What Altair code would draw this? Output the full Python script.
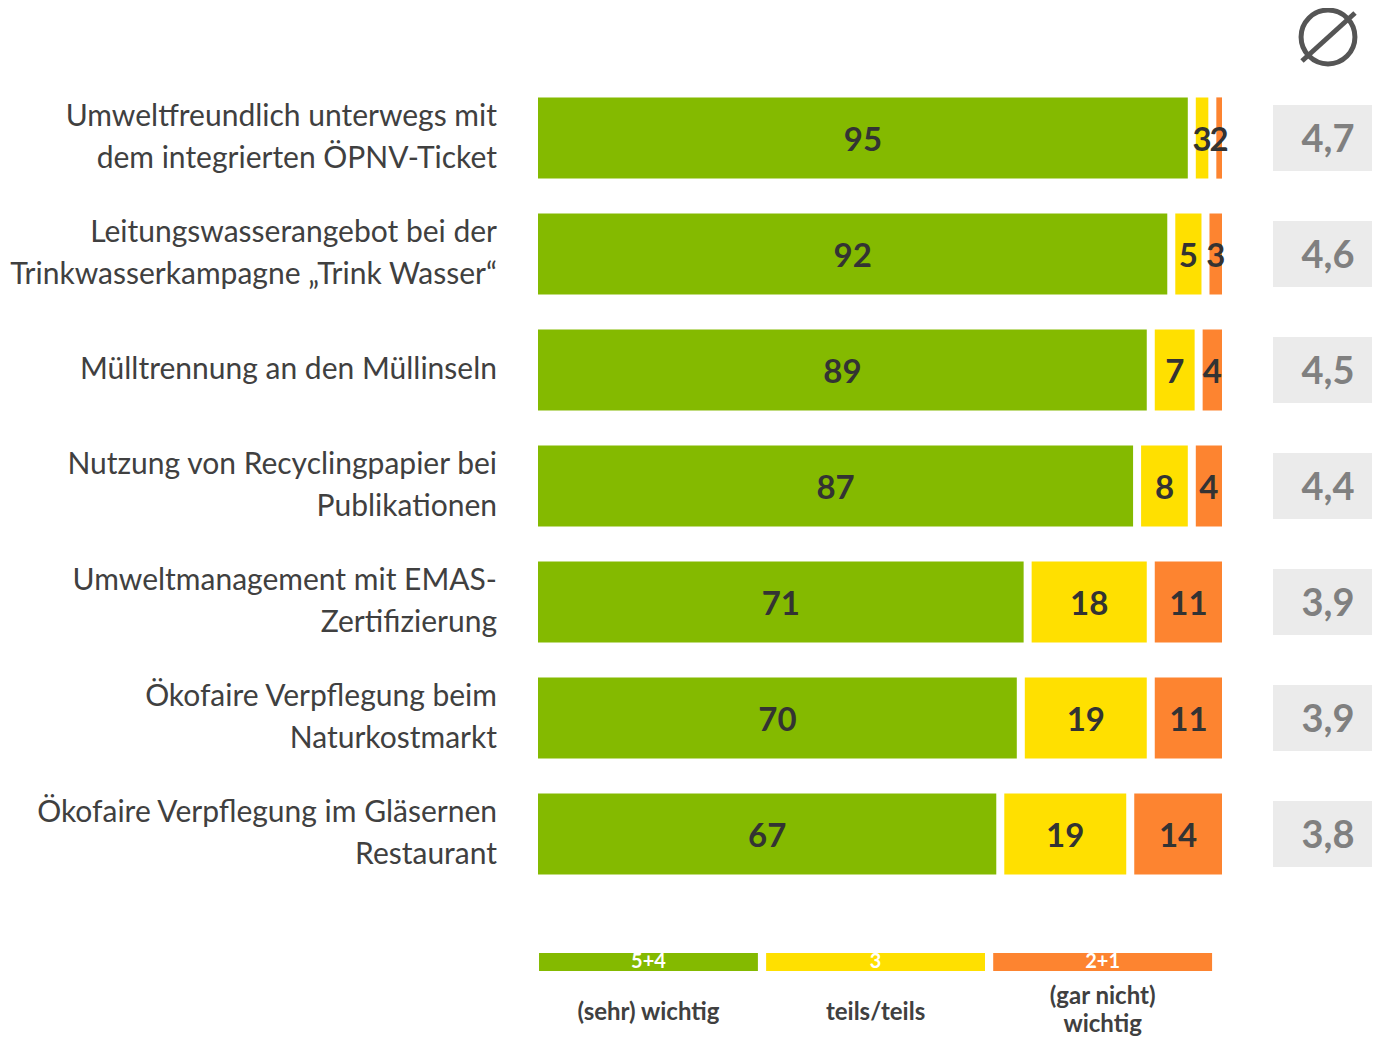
import altair as alt
import pandas as pd

categories = [
    "Umweltfreundlich unterwegs mit|dem integrierten ÖPNV-Ticket",
    "Leitungswasserangebot bei der|Trinkwasserkampagne „Trink Wasser“",
    "Mülltrennung an den Müllinseln",
    "Nutzung von Recyclingpapier bei|Publikationen",
    "Umweltmanagement mit EMAS-|Zertifizierung",
    "Ökofaire Verpflegung beim|Naturkostmarkt",
    "Ökofaire Verpflegung im Gläsernen|Restaurant",
]
wichtig = [95, 92, 89, 87, 71, 70, 67]
teils = [3, 5, 7, 8, 18, 19, 19]
nicht = [2, 3, 4, 4, 11, 11, 14]
averages = ["4,7", "4,6", "4,5", "4,4", "3,9", "3,9", "3,8"]

groups = ["5+4", "3", "2+1"]
group_names = ["(sehr) wichtig", "teils/teils", "(gar nicht)|wichtig"]
colors = ["#84BA00", "#FFE000", "#FD8430"]

FONT = "Lato"
GAP = 1.17  # gap between segments in percentage units
TEXT_DARK = "#404040"

rows = []
for i, cat in enumerate(categories):
    vals = [wichtig[i], teils[i], nicht[i]]
    cum = 0.0
    for j, v in enumerate(vals):
        start = cum + (GAP if j > 0 else 0)
        end = cum + v
        if j == len(vals) - 1:
            end = max(end, 100.0)  # rounded shares: last segment closes the 100 %
        rows.append({"cat": cat, "group": groups[j], "value": v,
                     "start": start, "end": end, "mid": (start + end) / 2})
        cum += v
df = pd.DataFrame(rows)

lab_rows = []
for cat in categories:
    parts = cat.split("|")
    lab_rows.append({"cat": cat, "l1": parts[0],
                     "l2": parts[1] if len(parts) > 1 else "",
                     "n": len(parts)})
lab_df = pd.DataFrame(lab_rows)

avg_df = pd.DataFrame({"cat": categories, "avg": averages})

LEG_W = 32.0
leg_rows = []
for j, g in enumerate(groups):
    s = 0.15 + j * (LEG_W + 1.2)
    e = s + LEG_W
    parts = group_names[j].split("|")
    leg_rows.append({"group": g, "l1": parts[0],
                     "l2": parts[1] if len(parts) > 1 else "",
                     "n": len(parts), "start": s, "end": e, "mid": (s + e) / 2})
leg_df = pd.DataFrame(leg_rows)

xscale = alt.Scale(domain=[0, 100], range=[0, 684])
yscale = alt.Scale(domain=categories, paddingInner=0.3, paddingOuter=0.15)
cscale = alt.Scale(domain=groups, range=colors)
Y = alt.Y("cat:N", scale=yscale, sort=categories, axis=None, title=None)

bars = alt.Chart(df).mark_bar(cornerRadius=0).encode(
    x=alt.X("start:Q", scale=xscale, axis=None),
    x2="end:Q",
    y=Y,
    color=alt.Color("group:N", scale=cscale, legend=None),
)

labels = alt.Chart(df).mark_text(font=FONT, fontSize=33, fontWeight="bold",
                                 color="#333333", baseline="middle", dy=3).encode(
    x=alt.X("mid:Q", scale=xscale),
    y=Y,
    text="value:Q",
)

def cat_text(dy, field, cond):
    return alt.Chart(lab_df).transform_filter(cond).mark_text(
        font=FONT, fontSize=30, color=TEXT_DARK, align="right",
        baseline="middle", dy=dy
    ).encode(x=alt.value(-41), y=Y, text=f"{field}:N")

single = cat_text(0, "l1", "datum.n == 1")
first = cat_text(-21, "l1", "datum.n == 2")
second = cat_text(21, "l2", "datum.n == 2")

boxes = alt.Chart(avg_df).mark_bar(size=66, color="#EBEBEB").encode(
    x=alt.value(735), x2=alt.value(834),
    y=Y,
)

avg_text = alt.Chart(avg_df).mark_text(font=FONT, fontSize=38, fontWeight="bold",
                                       color="#808080", baseline="middle", dy=3).encode(
    x=alt.value(790),
    y=Y,
    text="avg:N",
)

leg_bars = alt.Chart(leg_df).mark_bar().encode(
    x=alt.X("start:Q", scale=xscale), x2="end:Q",
    y=alt.value(873), y2=alt.value(891),
    color=alt.Color("group:N", scale=cscale, legend=None),
)
leg_codes = alt.Chart(leg_df).mark_text(font=FONT, fontSize=20, fontWeight="bold",
                                        color="white", baseline="middle").encode(
    x=alt.X("mid:Q", scale=xscale), y=alt.value(882), text="group:N",
)

def leg_text(ypos, field, cond):
    return alt.Chart(leg_df).transform_filter(cond).mark_text(
        font=FONT, fontSize=24, fontWeight="bold", color=TEXT_DARK,
        baseline="middle"
    ).encode(x=alt.X("mid:Q", scale=xscale), y=alt.value(ypos), text=f"{field}:N")

leg_single = leg_text(933, "l1", "datum.n == 1")
leg_first = leg_text(917, "l1", "datum.n == 2")
leg_second = leg_text(945, "l2", "datum.n == 2")

circle = alt.Chart(pd.DataFrame({"a": [0]})).mark_point(
    shape="circle", filled=False, size=2900, strokeWidth=5, color="#555555", opacity=1
).encode(x=alt.value(790), y=alt.value(-43))
slash = alt.Chart(pd.DataFrame({"a": [0]})).mark_rule(
    strokeWidth=5, color="#555555"
).encode(x=alt.value(764), y=alt.value(-19), x2=alt.value(817), y2=alt.value(-67))

chart = alt.layer(
    boxes, avg_text, bars, labels, single, first, second,
    leg_bars, leg_codes, leg_single, leg_first, leg_second, circle, slash
).properties(
    width=834, height=812,
    autosize=alt.AutoSizeParams(type="none"),
    padding={"left": 530, "top": 72, "right": 0, "bottom": 150},
).configure_view(stroke=None)

chart.save("out.html", embed_options={"renderer": "svg", "actions": False})
